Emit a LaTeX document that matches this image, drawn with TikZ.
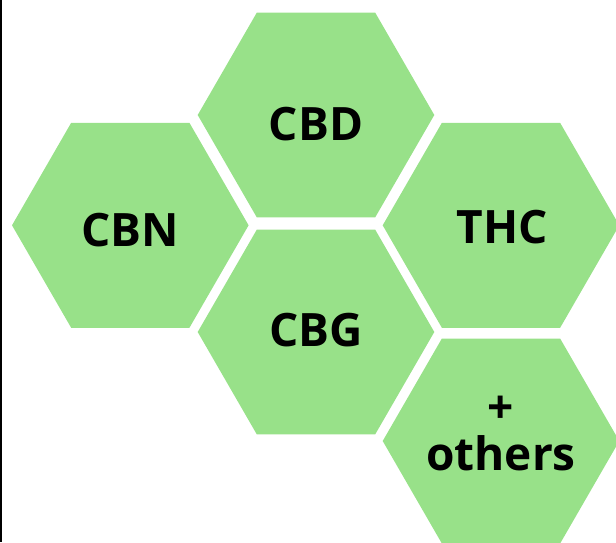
\documentclass[tikz,border=0pt]{standalone}
\usepackage{fontspec}
\setmainfont{Open Sans}
\usetikzlibrary{shapes.geometric}
\definecolor{leafgreen}{RGB}{152,225,137}

\begin{document}
\begin{tikzpicture}[x=1pt,y=-1pt,
        hexa/.style={regular polygon, regular polygon sides=6,
            minimum size=236.6pt, inner sep=0pt, outer sep=0pt, fill=leafgreen},
        hextext/.style={font=\fontsize{46}{47}\selectfont\bfseries, inner sep=0pt, align=center}]
        \useasboundingbox (0,0) rectangle (616,542);
        \fill [black] (0,0) rectangle (2.3,542);
        \node [hexa] (cbd) at (316,115) {};
        \node [hexa] (cbn) at (130.3,225.3) {};
        \node [hexa] (thc) at (501,225.3) {};
        \node [hexa] (cbg) at (316,332) {};
        \node [hexa] (others) at (501,441) {};
        \node [hextext] (cbdtext) at (316,124) {CBD};
        \node [hextext] (cbntext) at (130,230) {CBN};
        \node [hextext] (thctext) at (502,227.5) {THC};
        \node [hextext] (cbgtext) at (316,330) {CBG};
        \node [hextext] (otherstext) at (501,434) {+\\others};
    \end{tikzpicture}
\end{document}
